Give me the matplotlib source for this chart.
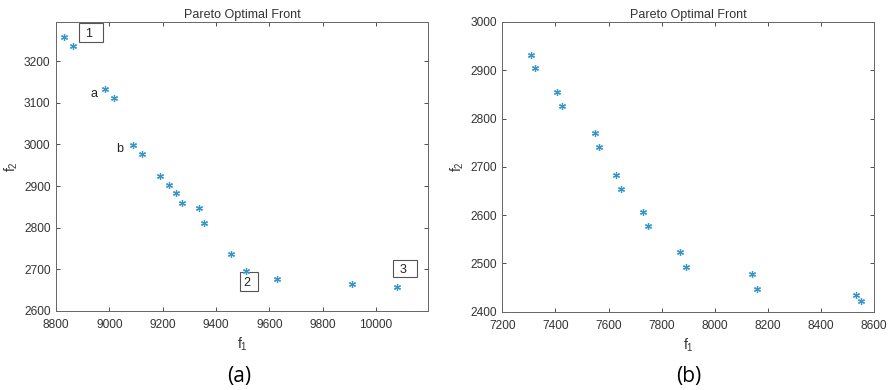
import matplotlib
matplotlib.use('Agg')
import matplotlib.pyplot as plt
from matplotlib.patches import Rectangle

plt.rcParams['font.family'] = ['Liberation Sans', 'DejaVu Sans']

# panel (a)
f1_a = [8831, 8865, 8982, 9016, 9088, 9121, 9190, 9223, 9251, 9274,
        9335, 9353, 9457, 9513, 9630, 9908, 10078]
f2_a = [3258, 3237, 3132, 3112, 2998, 2976, 2925, 2903, 2884, 2860,
        2848, 2811, 2737, 2697, 2677, 2666, 2658]

# panel (b)
f1_b = [7308, 7325, 7407, 7423, 7549, 7565, 7628, 7648, 7729, 7748,
        7870, 7892, 8140, 8160, 8530, 8551]
f2_b = [2931, 2904, 2854, 2825, 2769, 2741, 2683, 2654, 2606, 2577,
        2523, 2493, 2477, 2447, 2434, 2423]

# plain labels and boxed labels on panel (a)
letters = [('a', 8943, 3121), ('b', 9040, 2989)]
boxes = [('1', 8886, 3247, 90, 44), ('2', 9488, 2648, 71, 46), ('3', 10064, 2681, 91, 41)]

col = '#3797c8'
grey = '#333333'

fig = plt.figure(figsize=(8.91, 3.90), dpi=100)
ax1 = fig.add_axes([0.0629, 0.2026, 0.4175, 0.741])
ax2 = fig.add_axes([0.5637, 0.2010, 0.4175, 0.7426])


def style(ax):
    ax.tick_params(direction='in', top=True, right=True, length=3,
                   labelsize=8.6, colors=grey, width=0.6)
    ax.tick_params(axis='x', pad=6)
    ax.tick_params(axis='y', pad=4)
    for s in ax.spines.values():
        s.set_color('#666666')
        s.set_linewidth(0.7)
    ax.set_title('Pareto Optimal Front', fontsize=9, color=grey, pad=3)
    ax.set_xlabel(r'$\mathregular{f_1}$', fontsize=10, color=grey, labelpad=3)
    ax.set_ylabel(r'$\mathregular{f_2}$', fontsize=10, color=grey, labelpad=3)


ax1.plot(f1_a, f2_a, linestyle='none', marker=(6, 2, 0), markersize=5,
         color=col, markeredgewidth=0.9)
ax1.set_xlim(8800, 10195)
ax1.set_ylim(2600, 3294)
ax1.set_xticks(range(8800, 10001, 200))
ax1.set_yticks(range(2600, 3201, 100))
style(ax1)

for t, x, y in letters:
    ax1.text(x, y, t, fontsize=9, color='#222222', ha='center', va='center')
for t, x, y, w, h in boxes:
    ax1.add_patch(Rectangle((x, y), w, h, fill=False, edgecolor='#555555', linewidth=0.8))
    ax1.text(x + w * 0.4, y + h * 0.42, t, fontsize=9, color='#222222',
             ha='center', va='center')

ax2.plot(f1_b, f2_b, linestyle='none', marker=(6, 2, 0), markersize=5,
         color=col, markeredgewidth=0.9)
ax2.set_xlim(7200, 8600)
ax2.set_ylim(2400, 3000)
ax2.set_xticks(range(7200, 8601, 200))
ax2.set_yticks(range(2400, 3001, 100))
style(ax2)

fig.text(0.268, 0.035, '(a)', fontsize=15, family='Open Sans', ha='center', va='center')
fig.text(0.773, 0.035, '(b)', fontsize=15, family='Open Sans', ha='center', va='center')

fig.savefig('out.png', dpi=100)
